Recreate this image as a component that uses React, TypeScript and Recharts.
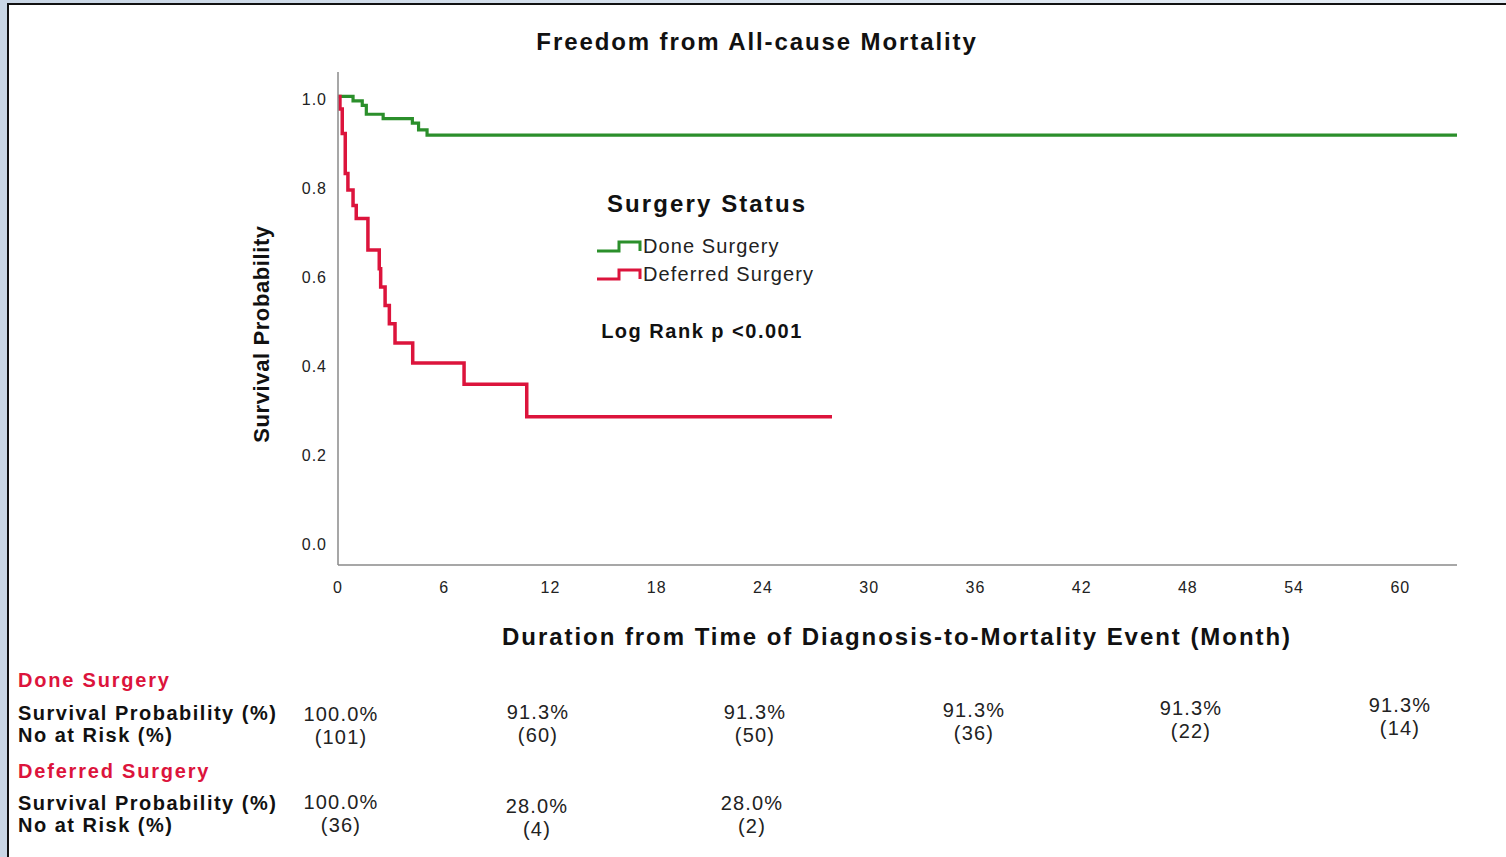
import { LineChart, Line, XAxis, YAxis, Legend } from "recharts";

// x axis ticks (months) and y axis ticks
const monthTicks = [0, 6, 12, 18, 24, 30, 36, 42, 48, 54, 60];
const probTicks = [0, 0.2, 0.4, 0.6, 0.8, 1.0];

// group names, in legend order
const groups = ["Done Surgery", "Deferred Surgery"];

// Kaplan-Meier steps
const doneTime = [0, 0.85, 1.37, 1.6, 2.55, 4.2, 4.55, 5.03, 63.2];
const doneSurv = [1, 0.99, 0.98, 0.96, 0.95, 0.94, 0.925, 0.913, 0.913];

const deferredTime = [
  0, 0.11, 0.24, 0.41, 0.56, 0.85, 1.03, 1.69, 2.33, 2.41, 2.66, 2.9, 3.22,
  4.22, 7.12, 10.66, 27.9,
];
const deferredSurv = [
  1, 0.972, 0.917, 0.827, 0.79, 0.755, 0.726, 0.655, 0.613, 0.572, 0.53,
  0.489, 0.446, 0.401, 0.353, 0.28, 0.28,
];

// risk table
const doneTableProb = ["100.0%", "91.3%", "91.3%", "91.3%", "91.3%", "91.3%"];
const doneTableRisk = ["(101)", "(60)", "(50)", "(36)", "(22)", "(14)"];
const deferredTableProb = ["100.0%", "28.0%", "28.0%"];
const deferredTableRisk = ["(36)", "(4)", "(2)"];

const GREEN = "#2b8f2b";
const RED = "#dc143c";
const FONT = "Arial, 'Liberation Sans', sans-serif";

const doneData = doneTime.map((t, i) => ({ t, s: doneSurv[i] }));
const deferredData = deferredTime.map((t, i) => ({ t, s: deferredSurv[i] }));

// where the table cells sit on the page
const doneCellX = [341, 538, 755, 974, 1191, 1400];
const doneCellY = [714, 712, 712, 710, 708, 705];
const deferredCellX = [341, 537, 752];
const deferredCellY = [802, 806, 803];

const txt = (
  x: number,
  y: number,
  size: number,
  bold: boolean,
  spacing: number,
  color = "#111",
  anchor: "left" | "center" = "left"
): React.CSSProperties => ({
  position: "absolute",
  left: x,
  top: y,
  transform: anchor === "center" ? "translate(-50%, -50%)" : "translate(0, -50%)",
  fontSize: size,
  lineHeight: `${size}px`,
  fontWeight: bold ? 700 : 400,
  letterSpacing: spacing,
  color,
  whiteSpace: "nowrap",
  fontFamily: FONT,
});

const StepIcon = ({ color }: { color: string }) => (
  <svg width={48} height={16} style={{ display: "block" }}>
    <path
      d="M2 13 H24 V4 H45 V13"
      fill="none"
      stroke={color}
      strokeWidth={3}
    />
  </svg>
);

const LegendBox = (props: any) => {
  const items = [...(props.payload || [])].sort(
    (a: any, b: any) => groups.indexOf(a.value) - groups.indexOf(b.value)
  );
  return (
    <div style={{ width: 260, fontFamily: FONT }}>
      <div
        style={{
          fontSize: 24,
          fontWeight: 700,
          letterSpacing: 2.1,
          color: "#111",
          marginLeft: 12,
          lineHeight: "30px",
          marginBottom: 13,
        }}
      >
        Surgery Status
      </div>
      {items.map((p: any) => (
        <div
          key={p.value}
          style={{ display: "flex", alignItems: "center", height: 28 }}
        >
          <StepIcon color={p.color} />
          <span style={{ fontSize: 20, letterSpacing: 1.1, color: "#222" }}>
            {p.value}
          </span>
        </div>
      ))}
    </div>
  );
};

const tickStyle = {
  fill: "#222",
  fontSize: 16,
  letterSpacing: 1,
  fontFamily: FONT,
};

export default function App() {
  return (
    <div
      style={{
        position: "fixed",
        left: 0,
        top: 0,
        width: 1506,
        height: 857,
        overflow: "hidden",
        background: "linear-gradient(90deg, #c9d6e5, #e6edf5)",
      }}
    >
      <div
        style={{
          position: "absolute",
          left: 7,
          top: 3,
          right: -4,
          bottom: -4,
          background: "#fff",
          borderTop: "2px solid #111",
          borderLeft: "2px solid #111",
        }}
      />
      <div style={{ position: "absolute", left: 0, top: 0 }}>
        <LineChart
          width={1506}
          height={857}
          margin={{ top: 72, right: 49, bottom: 262, left: 0 }}
        >
          <XAxis
            dataKey="t"
            type="number"
            domain={[0, 63.2]}
            ticks={monthTicks}
            allowDataOverflow
            axisLine={{ stroke: "#8a8a8a", strokeWidth: 1.5 }}
            tickLine={false}
            tickMargin={11}
            height={30}
            tick={tickStyle}
          />
          <YAxis
            type="number"
            domain={[-0.053, 1.055]}
            ticks={probTicks}
            allowDataOverflow
            width={338}
            axisLine={{ stroke: "#8a8a8a", strokeWidth: 1.5 }}
            tickLine={false}
            tickMargin={5}
            tickFormatter={(v: number) => v.toFixed(1)}
            tick={{ ...tickStyle, dy: 3 }}
          />
          <Legend
            layout="horizontal"
            verticalAlign="middle"
            align="center"
            wrapperStyle={{ position: "absolute", left: 595, top: 189 }}
            content={LegendBox}
          />
          <Line
            data={doneData}
            dataKey="s"
            name="Done Surgery"
            type="stepAfter"
            stroke={GREEN}
            strokeWidth={3.2}
            dot={false}
            isAnimationActive={false}
          />
          <Line
            data={deferredData}
            dataKey="s"
            name="Deferred Surgery"
            type="stepAfter"
            stroke={RED}
            strokeWidth={3.5}
            dot={false}
            isAnimationActive={false}
          />
        </LineChart>
      </div>

      <div style={txt(757, 42, 24, true, 1.9, "#111", "center")}>
        Freedom from All-cause Mortality
      </div>
      <div
        style={{
          ...txt(262, 334, 22, true, 0.6, "#111", "center"),
          transform: "translate(-50%, -50%) rotate(-90deg)",
        }}
      >
        Survival Probability
      </div>
      <div style={txt(897, 637, 24, true, 1.95, "#111", "center")}>
        Duration from Time of Diagnosis-to-Mortality Event (Month)
      </div>
      <div style={txt(702, 331, 20, true, 1.5, "#111", "center")}>
        Log Rank p {"<"}0.001
      </div>

      <div style={txt(18, 680, 20, true, 1.8, RED)}>Done Surgery</div>
      <div style={txt(18, 713, 20, true, 1.5)}>Survival Probability (%)</div>
      <div style={txt(18, 735, 20, true, 1.5)}>No at Risk (%)</div>
      {doneTableProb.map((v, i) => (
        <div key={"dp" + i} style={txt(doneCellX[i], doneCellY[i], 20, false, 1.2, "#222", "center")}>
          {v}
        </div>
      ))}
      {doneTableRisk.map((v, i) => (
        <div key={"dr" + i} style={txt(doneCellX[i], doneCellY[i] + 23, 20, false, 1.2, "#222", "center")}>
          {v}
        </div>
      ))}

      <div style={txt(18, 771, 20, true, 1.8, RED)}>Deferred Surgery</div>
      <div style={txt(18, 803, 20, true, 1.5)}>Survival Probability (%)</div>
      <div style={txt(18, 825, 20, true, 1.5)}>No at Risk (%)</div>
      {deferredTableProb.map((v, i) => (
        <div key={"fp" + i} style={txt(deferredCellX[i], deferredCellY[i], 20, false, 1.2, "#222", "center")}>
          {v}
        </div>
      ))}
      {deferredTableRisk.map((v, i) => (
        <div key={"fr" + i} style={txt(deferredCellX[i], deferredCellY[i] + 23, 20, false, 1.2, "#222", "center")}>
          {v}
        </div>
      ))}
    </div>
  );
}
